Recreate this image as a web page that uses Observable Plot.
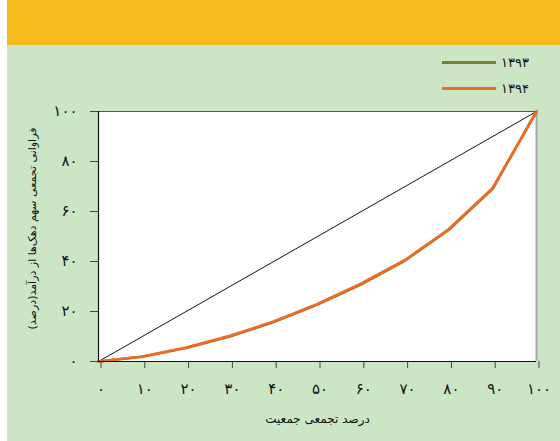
<!DOCTYPE html>
<html>
<head>
<meta charset="utf-8">
<script src="https://cdn.jsdelivr.net/npm/d3@7"></script>
<script src="https://cdn.jsdelivr.net/npm/@observablehq/plot@0.6"></script>
<style>
  html, body { margin: 0; padding: 0; background: #fff; }
  #wrap { position: relative; width: 560px; height: 441px; overflow: hidden; background: #fff; font-family: "DejaVu Sans", sans-serif; }
  #band { position: absolute; left: 7px; top: 0; width: 553px; height: 45px; background: #F6BC1E; }
  #panel { position: absolute; left: 7px; top: 45px; width: 553px; height: 396px; background: #CCE6C5; }
  #panel svg { display: block; }
  #panel svg g[aria-label="x-axis tick label"] text,
  #panel svg g[aria-label="y-axis tick label"] text { letter-spacing: 5px; }
  .leg { position: absolute; display: flex; align-items: center; }
  .leg .sw { width: 54px; height: 3px; }
  .leg .lb { margin-left: 5px; font-size: 13px; color: #111; letter-spacing: 1px; }
</style>
</head>
<body>
<div id="wrap">
  <div id="band"></div>
  <div id="panel"></div>
</div>
<script>
// Data
const population = [0, 10, 20, 30, 40, 50, 60, 70, 80, 90, 100];
const share1393  = [0, 1.9, 5.4, 10.0, 15.8, 22.8, 30.9, 40.4, 52.7, 69.1, 100];
const share1394  = [0, 2.0, 5.6, 10.3, 16.0, 23.0, 31.2, 40.6, 53.0, 69.4, 100];
const equality   = [0, 100];
const seriesNames = ["۱۳۹۳", "۱۳۹۴"];
const seriesColors = ["#7E7D33", "#F26A22"];
const xTicks = [0, 10, 20, 30, 40, 50, 60, 70, 80, 90, 100];
const yTicks = [0, 20, 40, 60, 80, 100];
const xLabel = "درصد تجمعی جمعیت";
const yLabel = "فراوانی تجمعی سهم دهک‌ها از درآمد(درصد)";

const fa = d => String(d).replace(/\d/g, c => "۰۱۲۳۴۵۶۷۸۹"[+c]);

const rows = [];
population.forEach((p, i) => {
  rows.push({ p, v: share1393[i], s: seriesNames[0] });
});
population.forEach((p, i) => {
  rows.push({ p, v: share1394[i], s: seriesNames[1] });
});
const eq = equality.map(v => ({ p: v, v }));

const chart = Plot.plot({
  width: 553,
  height: 396,
  marginLeft: 91,
  marginRight: 24,
  marginTop: 66,
  marginBottom: 80,
  style: { background: "transparent", fontFamily: "DejaVu Sans, sans-serif", color: "#111" },
  x: { domain: [0, 100], ticks: xTicks, tickFormat: fa, label: null },
  y: { domain: [0, 100], ticks: yTicks, tickFormat: fa, label: null },
  color: { domain: seriesNames, range: seriesColors },
  marks: [
    Plot.frame({ fill: "white", stroke: "none" }),
    Plot.ruleY([100], { stroke: "#555", strokeWidth: 1.2 }),
    Plot.ruleX([100], { stroke: "#a8a8a8", strokeWidth: 2 }),
    Plot.line(eq, { x: "p", y: "v", stroke: "#111", strokeWidth: 1 }),
    Plot.line(rows, { x: "p", y: "v", z: "s", stroke: "s", strokeWidth: 2.6 }),
    Plot.ruleX([0], { stroke: "#111", strokeWidth: 1.2 }),
    Plot.ruleY([0], { stroke: "#111", strokeWidth: 1.2 }),
    Plot.axisX({ ticks: xTicks, tickFormat: fa, tickSize: 7, tickPadding: 15, dx: 2.5, fontSize: 15, stroke: "#444", label: null }),
    Plot.axisY({ ticks: yTicks, tickFormat: fa, tickSize: 8, tickPadding: 13, fontSize: 15, stroke: "#444", label: null }),
    Plot.text([xLabel], { frameAnchor: "bottom", dy: 61, fontSize: 12, fill: "#111" }),
    Plot.text([yLabel], { frameAnchor: "left", textAnchor: "middle", dx: -66, dy: -8, rotate: -90, fontSize: 11, fill: "#111" })
  ]
});
document.getElementById("panel").appendChild(chart);

// Legend
const panel = document.getElementById("panel");
seriesNames.forEach((name, i) => {
  const d = document.createElement("div");
  d.className = "leg";
  d.style.left = (442 - 7) + "px";
  d.style.top = (62 + i * 26 - 45 - 9) + "px";
  d.style.height = "18px";
  const sw = document.createElement("div");
  sw.className = "sw";
  sw.style.background = seriesColors[i];
  const lb = document.createElement("div");
  lb.className = "lb";
  lb.textContent = name;
  d.appendChild(sw);
  d.appendChild(lb);
  panel.appendChild(d);
});
</script>
</body>
</html>
